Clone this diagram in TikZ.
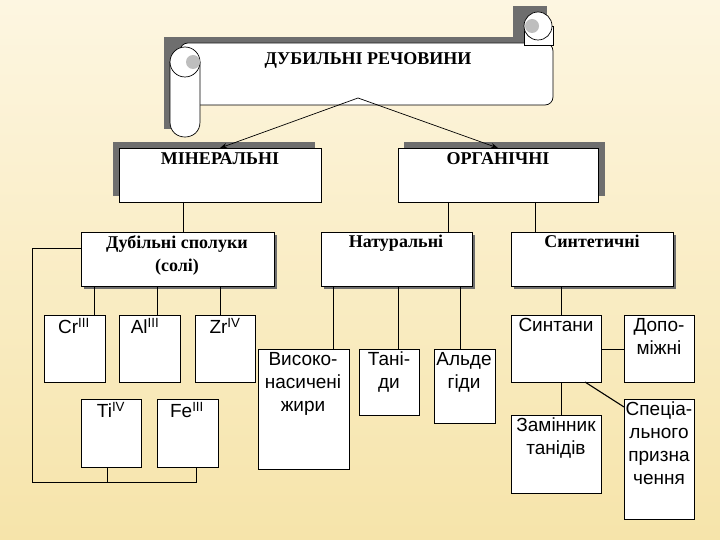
\documentclass[tikz,border=0pt]{standalone}
\usepackage{fontspec}
\setmainfont{Liberation Serif}
\setsansfont{Liberation Sans}
\usetikzlibrary{arrows.meta}
\definecolor{bgtop}{RGB}{253,246,225}
\definecolor{bgbot}{RGB}{246,228,170}
\definecolor{shd}{RGB}{110,110,110}
\definecolor{rollg}{RGB}{190,190,190}
\tikzset{x=1pt,y=-1pt,
 ln/.style={draw=black,line width=0.7pt},
 bx/.style={ln,fill=white},
 lbl/.style={font=\sffamily\fontsize{19}{23}\selectfont,align=center,anchor=north,inner sep=0pt},
 hd/.style={font=\bfseries\fontsize{18}{23}\selectfont,align=center,anchor=north,inner sep=0pt},
 arr/.style={ln,-{Stealth[length=7pt,width=5pt]}}}
\begin{document}
\begin{tikzpicture}
\shade[top color=bgtop,bottom color=bgbot] (0,0) rectangle (720,540);
\useasboundingbox (0,0) rectangle (720,540);
% scroll shadow
\fill[shd] (164,37) rectangle (547,99);
\fill[shd] (164,56) rectangle (194,129);
\fill[shd] (513,6) rectangle (547,40);
% scroll body
\draw[bx,rounded corners=8pt] (180,43) -- (553,43) -- (553,105) -- (180,105) -- cycle;
\draw[bx] (170,62) -- (170,122) .. controls (170,142) and (200,142) .. (200,122) -- (200,62);
\draw[bx] (185,62) circle (15);
\fill[rollg] (193,62) circle (7);
\draw[bx] (524,45) -- (524,26) -- (553,26) -- (553,45) -- cycle;
\draw[bx] (538,26) circle (14);
\fill[rollg] (532,26) circle (7);
\coordinate (sc) at (358,98);
\node[hd] (title) at (368,52) {ДУБИЛЬНІ РЕЧОВИНИ};
% level 2
\fill[shd] (113,142) rectangle (315,196);
\fill[shd] (404,142) rectangle (605,196);
\draw[bx] (119,148) rectangle (321,202); \node[hd] (min) at (220,152) {МІНЕРАЛЬНІ};
\draw[bx] (398,148) rectangle (598,202); \node[hd] (org) at (498,152) {ОРГАНІЧНІ};
\coordinate (minT) at (220,148); \coordinate (orgT) at (498,148);
\draw[arr] (sc) -- (minT);
\draw[arr] (sc) -- (orgT);
% level 3
\foreach \a/\b/\c/\d in {81/232/274/286,321/232/472/286,511/232/673/286}
 {\fill[shd] (\a+3,\b+3) rectangle (\c+3,\d+3); \draw[bx] (\a,\b) rectangle (\c,\d);}
\node[hd] (dub) at (177,235) {Дубільні сполуки\\(солі)};
\node[hd] (nat) at (396,235) {Натуральні};
\node[hd] (syn) at (592,235) {Синтетичні};
\draw[ln] (183,202) -- (183,232);
\draw[ln] (448,202) -- (448,232);
\draw[ln] (535,202) -- (535,232);
% minerals
\draw[bx] (44,315) rectangle (105,382); \node[lbl] (cr) at (74,318) {Cr\textsuperscript{III}};
\draw[bx] (119,315) rectangle (180,382); \node[lbl] (al) at (145,318) {Al\textsuperscript{III}};
\draw[bx] (195,315) rectangle (255,382); \node[lbl] (zr) at (225,318) {Zr\textsuperscript{IV}};
\draw[bx] (81,399) rectangle (141,467); \node[lbl] (ti) at (111,402) {Ti\textsuperscript{IV}};
\draw[bx] (157,399) rectangle (218,467); \node[lbl] (fe) at (187,402) {Fe\textsuperscript{III}};
\draw[ln] (94,286) -- (94,315);
\draw[ln] (157,286) -- (157,315);
\draw[ln] (220,286) -- (220,315);
\draw[ln] (81,248) -- (32,248) -- (32,482) -- (196,482) -- (196,467);
\draw[ln] (107,467) -- (107,482);
% natural
\draw[bx] (258,349) rectangle (349,469); \node[lbl] (vys) at (303,352) {Високо-\\насичені\\жири};
\draw[bx] (359,349) rectangle (419,415); \node[lbl] (tan) at (389,352) {Тані-\\ди};
\draw[bx] (434,349) rectangle (495,423); \node[lbl] (ald) at (464,352) {Альде\\гіди};
\draw[ln] (333,286) -- (333,349);
\draw[ln] (398,286) -- (398,349);
\draw[ln] (460,286) -- (460,349);
% synthetic
\draw[bx] (511,315) rectangle (601,382); \node[lbl] (synt) at (556,318) {Синтани};
\draw[bx] (624,315) rectangle (694,382); \node[lbl] (dop) at (659,318) {Допо-\\міжні};
\draw[bx] (511,415) rectangle (601,493); \node[lbl] (zam) at (556,418) {Замінник\\танідів};
\draw[bx] (624,399) rectangle (694,519); \node[lbl] (spe) at (659,402) {Спеціа-\\льного\\призна\\чення};
\draw[ln] (561,286) -- (561,315);
\draw[ln] (601,349) -- (624,349);
\draw[ln] (561,382) -- (561,415);
\draw[ln,line width=1.1pt] (585,382) -- (624,407);
\end{tikzpicture}
\end{document}
